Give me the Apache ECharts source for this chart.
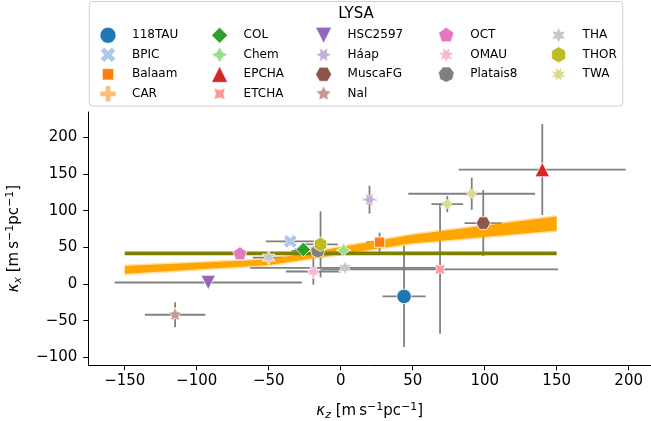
<!DOCTYPE html>
<html>
<head>
<meta charset="utf-8">
<script src="https://cdn.jsdelivr.net/npm/echarts@6/dist/echarts.min.js"></script>
<style>
  html, body { margin: 0; padding: 0; background: #fff; }
  #main { width: 651px; height: 421px; }
</style>
</head>
<body>
<div id="main"></div>
<script>
// groups (legend order) and their colours
var groupNames = ['118TAU', 'BPIC', 'Balaam', 'CAR', 'COL', 'Chem', 'EPCHA', 'ETCHA', 'HSC2597',
  'Háap', 'MuscaFG', 'Nal', 'OCT', 'OMAU', 'Platais8', 'THA', 'THOR', 'TWA'];
var groupColors = ['#1f77b4', '#aec7e8', '#ff7f0e', '#ffbb78', '#2ca02c', '#98df8a', '#d62728', '#ff9896', '#9467bd',
  '#c5b0d5', '#8c564b', '#c49c94', '#e377c2', '#f7b6d2', '#7f7f7f', '#c7c7c7', '#bcbd22', '#dbdb8d'];

// one entry per point
var pointGroup = ['118TAU', 'BPIC', 'Balaam', 'CAR', 'COL', 'Chem', 'EPCHA', 'ETCHA', 'HSC2597',
  'Háap', 'MuscaFG', 'Nal', 'OCT', 'OMAU', 'Platais8', 'THA', 'THA', 'THOR', 'TWA', 'TWA'];
var kappaZ    = [44, -35, 27, -17, -26, 2, 140, 69, -92, 20, 99, -115, -70, -19, -16, -50, 3, -14, 91, 74];
var kappaX    = [-17, 58, 57, 48, 47, 46, 156, 20, 2, 115, 83, -42, 41, 17, 45, 36, 22, 54, 123, 109];
var kappaZErr = [15, 17, 9, 5, 6, 10, 58, 82, 65, 5, 13, 21, 3, 19, 18, 11, 66, 12, 44, 11];
var kappaXErr = [69, 4, 13, 5, 5, 4, 62, 88, 3, 19, 45, 17, 3, 18, 8, 4, 4, 45, 22, 11];

// fits: constant line and linear fit band
var constX = [-150, 150];
var constY = [41.8, 41.8];
var bandX  = [-150, -50, 50, 150];
var bandLo = [13.8, 25.8, 55.5, 73];
var bandHi = [24.6, 33.4, 67, 92];

// axis ticks
var xTicks = [-150, -100, -50, 0, 50, 100, 150, 200];
var yTicks = [-100, -50, 0, 50, 100, 150, 200];

// marker shapes, drawn in a [-1, 1] box (the two moveTo's fix the box)
var box = 'M-1 -1 M1 1 ';
function shapePath(pts) {
  return 'path://' + box + 'M' + pts.map(function (p) {
    return p[0].toFixed(3) + ' ' + p[1].toFixed(3);
  }).join(' L') + ' Z';
}
function regular(n, star, angle) {
  var m = star ? 2 * n : n, pts = [];
  for (var i = 0; i < m; i++) {
    var t = Math.PI / 2 + 2 * Math.PI * i / m + angle * Math.PI / 180;
    var r = (star && i % 2 === 1) ? 0.5 : 1;
    pts.push([r * Math.cos(t), -r * Math.sin(t)]);
  }
  return shapePath(pts);
}
var xShape = shapePath([[-1, -2], [0, -1], [1, -2], [2, -1], [1, 0], [2, 1], [1, 2], [0, 1], [-1, 2], [-2, 1], [-1, 0], [-2, -1]]
  .map(function (p) { return [p[0] * 0.47, p[1] * 0.47]; }));
var plusShape = shapePath([[-1, -3], [1, -3], [1, -1], [3, -1], [3, 1], [1, 1], [1, 3], [-1, 3], [-1, 1], [-3, 1], [-3, -1], [-1, -1]]
  .map(function (p) { return [p[0] * 0.33, p[1] * 0.33]; }));
var markers = [
  'circle', xShape, regular(4, false, 45), plusShape, regular(4, false, 0), regular(4, true, 0),
  shapePath([[0, -1], [1, 1], [-1, 1]]), regular(4, true, 45), shapePath([[0, 1], [-1, -1], [1, -1]]),
  regular(6, true, 30), regular(6, false, 30), regular(5, true, 0), regular(5, false, 0),
  regular(7, true, 360 / 14), regular(7, false, 360 / 14), regular(6, true, 0), regular(6, false, 0),
  regular(8, true, 22.5)
];

var font = 'DejaVu Sans';
var chart = echarts.init(document.getElementById('main'));

// error bars
var errData = kappaZ.map(function (z, i) {
  return [z, kappaX[i], kappaZErr[i], kappaXErr[i]];
});
var series = [{
  type: 'custom',
  z: 1,
  data: errData,
  encode: { x: 0, y: 1 },
  renderItem: function (params, api) {
    var x = api.value(0), y = api.value(1), ex = api.value(2), ey = api.value(3);
    var l = api.coord([x - ex, y]), r = api.coord([x + ex, y]);
    var t = api.coord([x, y + ey]), b = api.coord([x, y - ey]);
    var st = { stroke: '#808080', lineWidth: 1.8 };
    return {
      type: 'group', children: [
        { type: 'line', shape: { x1: l[0], y1: l[1], x2: r[0], y2: r[1] }, style: st },
        { type: 'line', shape: { x1: t[0], y1: t[1], x2: b[0], y2: b[1] }, style: st }
      ]
    };
  }
}, {
  // linear fit band
  type: 'custom',
  z: 2,
  data: bandX.map(function (x, i) { return [x, bandLo[i], bandHi[i]]; }),
  encode: { x: 0, y: [1, 2] },
  renderItem: function (params, api) {
    if (params.dataIndex !== 0) return null;
    var top = bandX.map(function (x, i) { return api.coord([x, bandHi[i]]); });
    var bot = bandX.map(function (x, i) { return api.coord([x, bandLo[i]]); }).reverse();
    var outer = top.map(function (p) { return [p[0], p[1] - 1.5]; })
      .concat(bot.map(function (p) { return [p[0], p[1] + 1.5]; }));
    return {
      type: 'group', children: [
        { type: 'polygon', shape: { points: outer }, style: { fill: 'rgba(255,165,0,0.35)' } },
        { type: 'polygon', shape: { points: top.concat(bot) }, style: { fill: '#ffa500' } }
      ]
    };
  }
}, {
  type: 'line',
  z: 3,
  data: constX.map(function (x, i) { return [x, constY[i]]; }),
  symbol: 'none',
  lineStyle: { color: '#808000', width: 3.8 }
}];

groupNames.forEach(function (g, gi) {
  var pts = [];
  pointGroup.forEach(function (pg, i) {
    if (pg === g) pts.push([kappaZ[i], kappaX[i]]);
  });
  series.push({
    name: g,
    type: 'scatter',
    z: 4,
    data: pts,
    symbol: markers[gi],
    symbolSize: 14.5,
    symbolKeepAspect: true,
    itemStyle: { color: groupColors[gi], borderColor: '#fff', borderWidth: 0.8, opacity: 1 }
  });
});

// legend: 5 columns, filled column-wise
var colCenter = [107.7, 219.3, 323.3, 446, 558.3];
var colSizes = [4, 4, 4, 3, 3];
var legends = [], k = 0;
colSizes.forEach(function (n, c) {
  var items = [];
  for (var j = 0; j < n; j++, k++) {
    items.push({ name: groupNames[k], icon: markers[k] });
  }
  legends.push({
    orient: 'vertical',
    left: colCenter[c] - 8,
    top: 27,
    padding: 0,
    itemWidth: 16,
    itemHeight: 16,
    itemGap: 2.9,
    selectedMode: false,
    symbolKeepAspect: true,
    data: items,
    itemStyle: { borderWidth: 0.6 },
    textStyle: { fontFamily: font, fontSize: 12, color: '#000', padding: [0, 0, 0, 11] }
  });
});

var tickFmt = function (v) { return String(v).replace('-', '\u2212'); };
var nameRich = {
  i: { fontFamily: font, fontSize: 15, fontStyle: 'italic', color: '#000' },
  n: { fontFamily: font, fontSize: 15, color: '#000' },
  s: { fontFamily: font, fontSize: 11, fontStyle: 'italic', color: '#000', padding: [8, 0, 0, 0] },
  p: { fontFamily: font, fontSize: 11, color: '#000', padding: [0, 0, 8, 0] }
};

var option = {
  animation: false,
  backgroundColor: '#fff',
  grid: { left: 88.3, right: 0, top: 112, bottom: 55.7, outerBoundsMode: 'none' },
  legend: legends,
  graphic: [{
    type: 'rect',
    z: -1,
    shape: { x: 89.3, y: 1.5, width: 533.4, height: 104.5, r: 3 },
    style: { fill: '#fff', stroke: '#d0d0d0', lineWidth: 1 }
  }, {
    type: 'text',
    x: 356, y: 14,
    style: { text: 'LYSA', font: '15px "DejaVu Sans"', fill: '#000', align: 'center', verticalAlign: 'middle' }
  }],
  xAxis: {
    type: 'value',
    min: -175.3,
    max: 215.5,
    splitLine: { show: false },
    axisLine: { onZero: false, lineStyle: { color: '#000', width: 1 } },
    axisTick: { customValues: xTicks, length: 5, lineStyle: { color: '#000' } },
    axisLabel: { customValues: xTicks, formatter: tickFmt, margin: 8, fontFamily: font, fontSize: 15, color: '#000' },
    name: '{i|κ}{s|z}{n| [m\u2009s}{p|\u22121}{n|pc}{p|\u22121}{n|]}',
    nameLocation: 'middle',
    nameGap: 36,
    nameTextStyle: { rich: nameRich }
  },
  yAxis: {
    type: 'value',
    min: -110.9,
    max: 234.5,
    splitLine: { show: false },
    axisLine: { show: true, onZero: false, lineStyle: { color: '#000', width: 1 } },
    axisTick: { show: true, customValues: yTicks, length: 5, lineStyle: { color: '#000' } },
    axisLabel: { customValues: yTicks, formatter: tickFmt, margin: 11, fontFamily: font, fontSize: 15, color: '#000' },
    name: '{i|κ}{s|x}{n| [m\u2009s}{p|\u22121}{n|pc}{p|\u22121}{n|]}',
    nameLocation: 'middle',
    nameRotate: 90,
    nameGap: 65,
    nameTextStyle: { rich: nameRich }
  },
  series: series
};

chart.setOption(option);
</script>
</body>
</html>
